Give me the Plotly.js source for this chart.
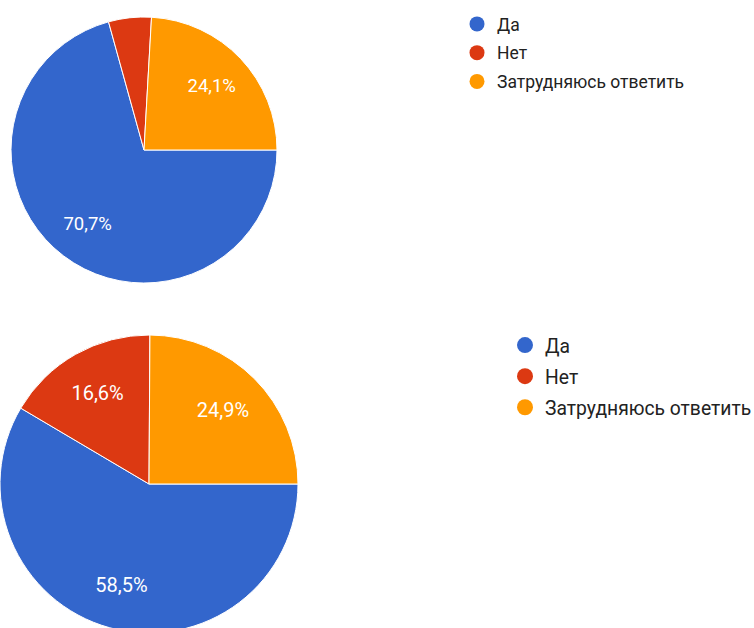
<!DOCTYPE html>
<html>
<head>
<meta charset="utf-8">
<script src="https://cdn.plot.ly/plotly-3.0.1.min.js"></script>
<style>
html,body{margin:0;padding:0;background:#fff;overflow:hidden;}
#chart{width:754px;height:640px;}
</style>
</head>
<body>
<div id="chart"></div>
<script>
const categories = ['Да', 'Нет', 'Затрудняюсь ответить'];
const valuesTop = [70.7, 5.2, 24.1];
const valuesBottom = [58.5, 16.6, 24.9];
const labelsTop = ['%{percent:.1%}', '', '%{percent:.1%}'];
const labelsBottom = ['%{percent:.1%}', '%{percent:.1%}', '%{percent:.1%}'];
const colors = ['#3366CC', '#DC3912', '#FF9900'];

const W = 754, H = 640;
const font = 'Roboto, Arial, sans-serif';

function pie(values, x0, x1, y0, y1) {
  return {
    type: 'pie',
    labels: categories,
    values: values,
    sort: false,
    direction: 'clockwise',
    rotation: 90,
    textinfo: 'none',
    marker: {colors: colors, line: {color: '#ffffff', width: 1}},
    domain: {x: [x0 / W, x1 / W], y: [1 - y1 / H, 1 - y0 / H]},
    showlegend: false,
    hoverinfo: 'label+percent'
  };
}
// transparent ring carrying the percentage labels (placed mid-ring)
function ring(values, tmpl, x0, x1, y0, y1, fs) {
  return {
    type: 'pie',
    labels: categories,
    values: values,
    sort: false,
    direction: 'clockwise',
    rotation: 90,
    hole: 0.4,
    texttemplate: tmpl,
    textposition: 'inside',
    insidetextorientation: 'horizontal',
    textfont: {color: '#ffffff', size: fs, family: font},
    marker: {colors: ['rgba(0,0,0,0)', 'rgba(0,0,0,0)', 'rgba(0,0,0,0)'], line: {width: 0}},
    domain: {x: [x0 / W, x1 / W], y: [1 - y1 / H, 1 - y0 / H]},
    showlegend: false,
    hoverinfo: 'skip'
  };
}

const traces = [
  pie(valuesTop, 11, 277, 17, 283),
  pie(valuesBottom, 0, 298, 335, 633),
  ring(valuesTop, labelsTop, 11, 277, 17, 283, 18.5),
  ring(valuesBottom, labelsBottom, 0, 298, 335, 633, 20)
];

categories.forEach((c, i) => {
  traces.push({type: 'scatter', mode: 'markers', x: [null], y: [null], name: c,
    marker: {color: colors[i], size: 15, symbol: 'circle'},
    legend: 'legend', legendgroup: 'a' + i, showlegend: true});
});
categories.forEach((c, i) => {
  traces.push({type: 'scatter', mode: 'markers', x: [null], y: [null], name: c,
    marker: {color: colors[i], size: 16, symbol: 'circle'},
    legend: 'legend2', legendgroup: 'b' + i, showlegend: true});
});

const layout = {
  width: W, height: H,
  margin: {l: 0, r: 0, t: 0, b: 0, autoexpand: false},
  paper_bgcolor: '#ffffff', plot_bgcolor: '#ffffff',
  separators: ',.',
  font: {family: font, color: '#222222'},
  xaxis: {visible: false}, yaxis: {visible: false},
  legend: {x: 457 / W, y: 1 - 6 / H, xanchor: 'left', yanchor: 'top',
    font: {size: 17.5, color: '#222222', family: font}, tracegroupgap: 3, bgcolor: 'rgba(0,0,0,0)'},
  legend2: {x: 505 / W, y: 1 - 326 / H, xanchor: 'left', yanchor: 'top',
    font: {size: 19.3, color: '#222222', family: font}, tracegroupgap: 3, bgcolor: 'rgba(0,0,0,0)'}
};

Plotly.newPlot('chart', traces, layout, {displayModeBar: false, staticPlot: true});
</script>
</body>
</html>
